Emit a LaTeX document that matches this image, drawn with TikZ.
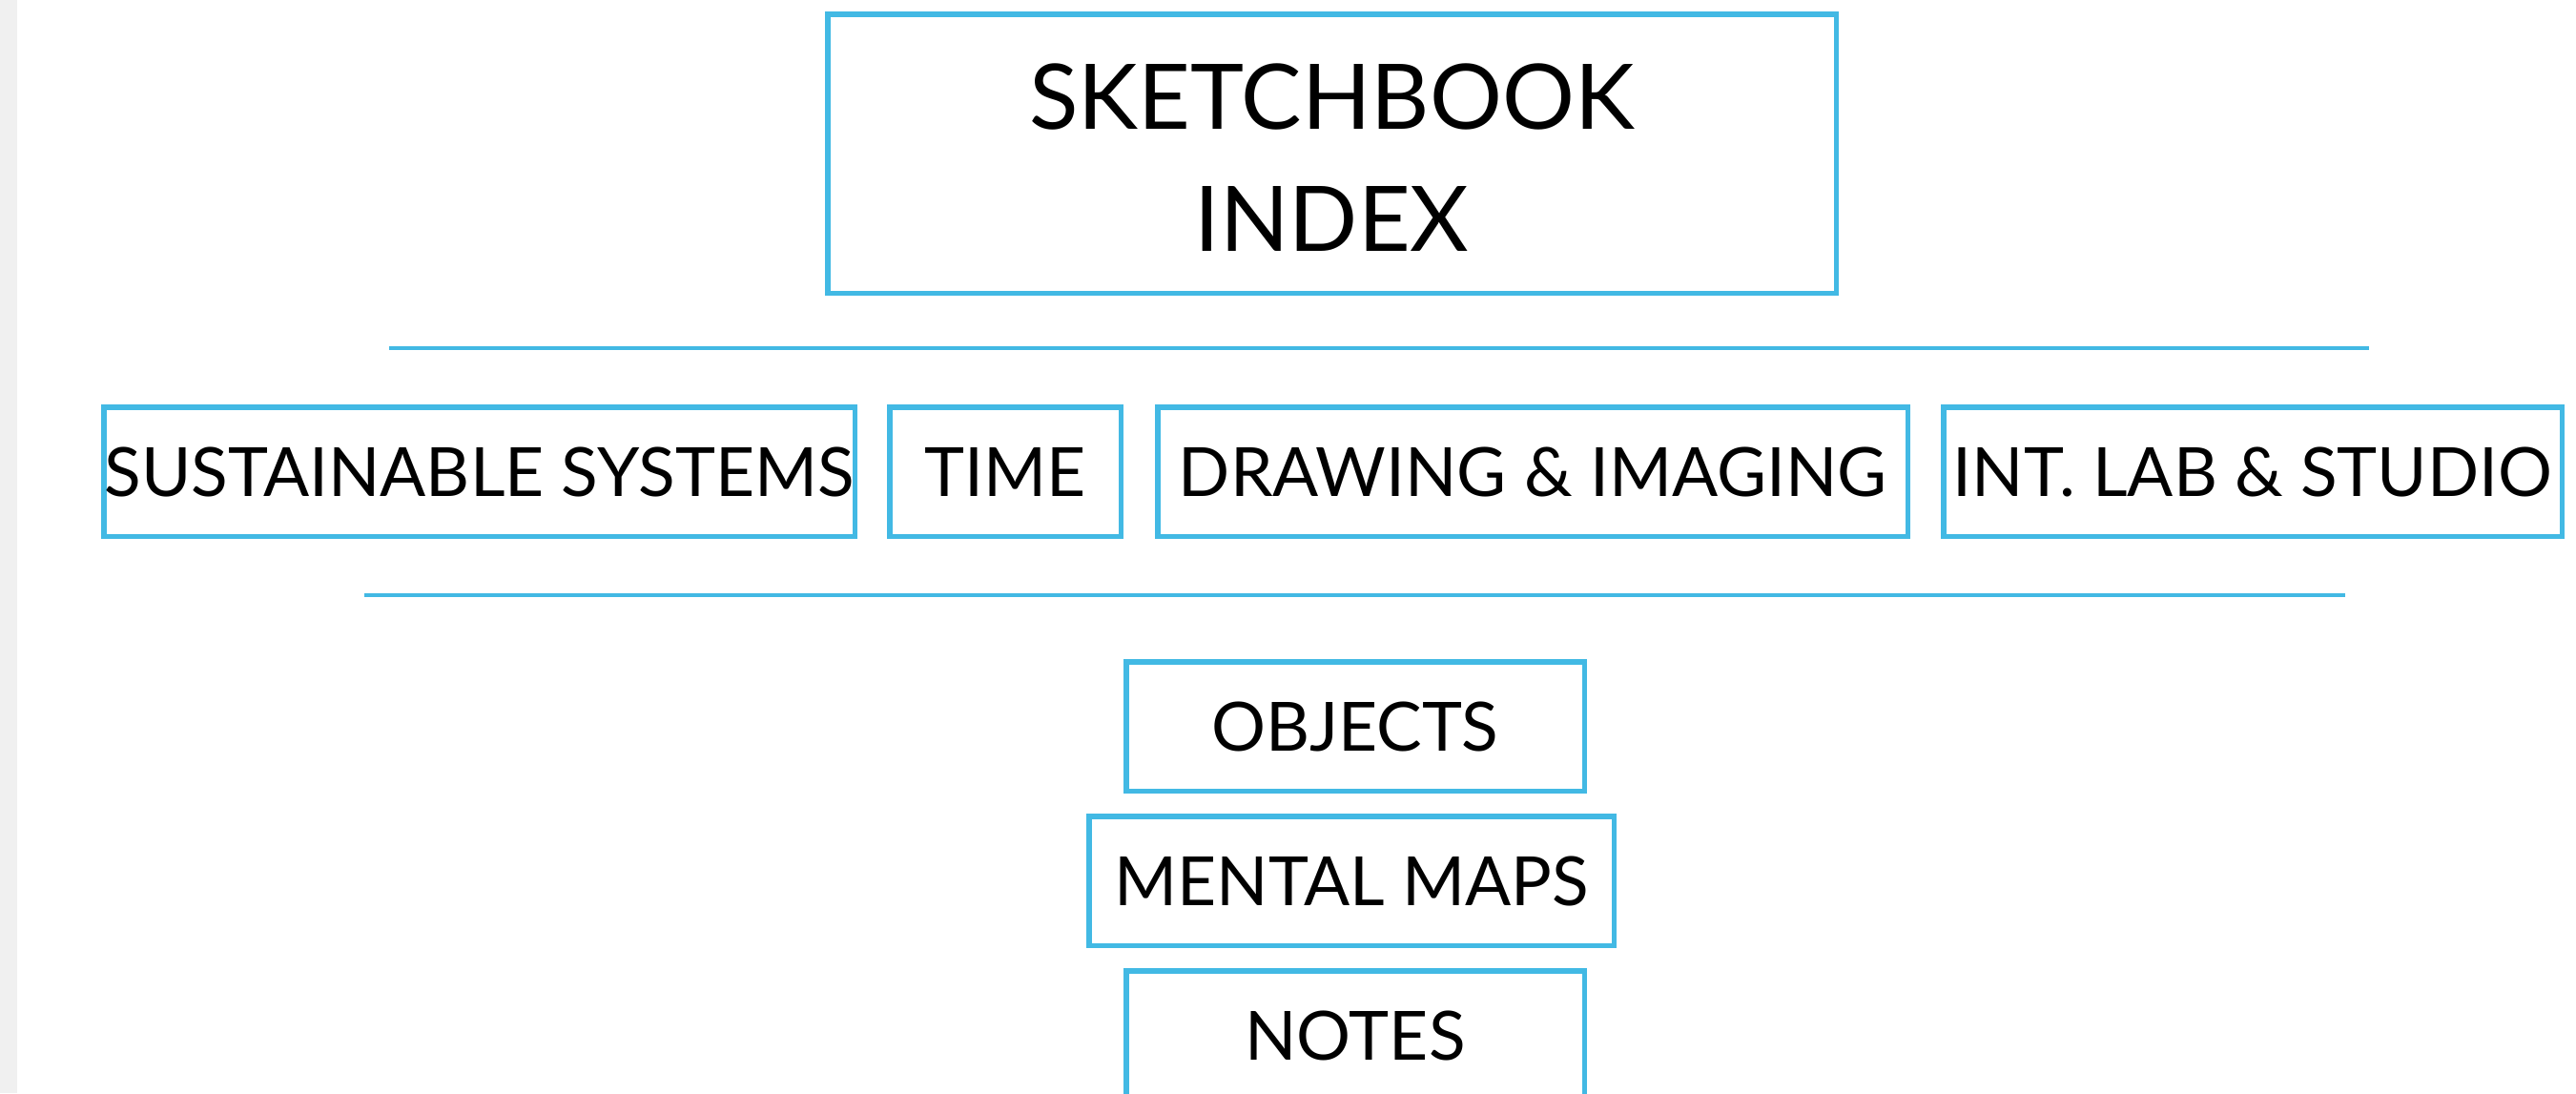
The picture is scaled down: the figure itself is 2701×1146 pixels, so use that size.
\documentclass[tikz,border=0pt]{standalone}
\usepackage{fontspec}
\setmainfont{Lato}
\definecolor{boxblue}{RGB}{66,185,228}
\definecolor{stripgray}{RGB}{240,240,240}
\begin{document}
\begin{tikzpicture}[x=1pt,y=-1pt,
  bluebox/.style={draw=boxblue, line width=5.5pt, inner sep=0pt, rectangle},
  rowbox/.style={bluebox, minimum height=135.5pt, font=\fontsize{71.2}{80}\selectfont, text height=51pt, text depth=0pt},
  sepline/.style={draw=boxblue, line width=4pt}]
\useasboundingbox (0,0) rectangle (2701,1146);
\clip (0,0) rectangle (2701,1146);
\fill[white] (0,0) rectangle (2701,1146);
\fill[stripgray] (0,0) rectangle (17.5,1146);

\node[bluebox, minimum width=1057.5pt, minimum height=292.5pt, align=center,
      font=\fontsize{94.9}{128}\selectfont] (title) at (1396.5,161)
      {\rule{0pt}{76pt}SKETCHBOOK\\INDEX};

\coordinate (l1a) at (408,365);
\coordinate (l1b) at (2484,365);
\draw[sepline] (l1a) -- (l1b);

\node[rowbox, minimum width=787.5pt] (sust) at (502.5,494.5) {SUSTAINABLE SYSTEMS};
\node[rowbox, minimum width=242.5pt] (time) at (1054,494.5) {TIME};
\node[rowbox, minimum width=786.5pt] (draw) at (1607,494.5) {DRAWING \& IMAGING};
\node[rowbox, minimum width=648.5pt] (intlab) at (2362,494.5) {INT. LAB \& STUDIO};

\coordinate (l2a) at (382,624);
\coordinate (l2b) at (2459,624);
\draw[sepline] (l2a) -- (l2b);

\node[rowbox, minimum width=480.5pt] (objects) at (1421,761.5) {OBJECTS};
\node[rowbox, minimum width=550.5pt] (mental) at (1417,923.5) {MENTAL MAPS};
\node[rowbox, minimum width=480.5pt] (notes) at (1421,1085.5) {NOTES};
\end{tikzpicture}
\end{document}
